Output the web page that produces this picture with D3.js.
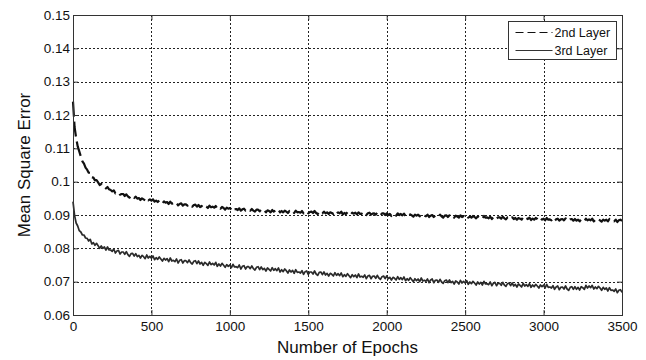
<!DOCTYPE html>
<html>
<head>
<meta charset="utf-8">
<script src="https://cdn.jsdelivr.net/npm/d3@7"></script>
<style>
  body { margin: 0; background: #fff; }
  svg { display: block; font-family: "Liberation Sans", Arial, sans-serif; }
</style>
</head>
<body>
<script>
// epochs sampled every 10
const epochs = d3.range(0, 3501, 10);

// 2nd Layer MSE (dashed)
const layer2 = [
  0.1240,0.1164,0.1131,0.1106,0.1091,0.1075,0.1061,0.1054,0.1042,0.1036,
  0.1027,0.1026,0.1013,0.1012,0.1004,0.1005,0.0998,0.0990,0.0993,0.0987,
  0.0987,0.0980,0.0984,0.0977,0.0975,0.0971,0.0974,0.0965,0.0968,0.0968,
  0.0961,0.0963,0.0963,0.0957,0.0962,0.0956,0.0952,0.0957,0.0957,0.0951,
  0.0955,0.0949,0.0951,0.0945,0.0950,0.0947,0.0944,0.0950,0.0944,0.0947,
  0.0943,0.0947,0.0940,0.0943,0.0939,0.0944,0.0940,0.0935,0.0941,0.0937,
  0.0939,0.0933,0.0940,0.0934,0.0935,0.0932,0.0936,0.0929,0.0933,0.0935,
  0.0928,0.0932,0.0932,0.0928,0.0933,0.0928,0.0925,0.0930,0.0931,0.0925,
  0.0930,0.0924,0.0927,0.0922,0.0927,0.0925,0.0921,0.0928,0.0923,0.0925,
  0.0922,0.0927,0.0919,0.0923,0.0919,0.0924,0.0921,0.0916,0.0922,0.0919,
  0.0921,0.0916,0.0922,0.0917,0.0918,0.0915,0.0920,0.0913,0.0917,0.0919,
  0.0913,0.0916,0.0917,0.0913,0.0918,0.0913,0.0910,0.0916,0.0916,0.0911,
  0.0916,0.0911,0.0913,0.0908,0.0914,0.0912,0.0908,0.0915,0.0910,0.0913,
  0.0910,0.0915,0.0908,0.0912,0.0908,0.0913,0.0910,0.0906,0.0912,0.0909,
  0.0912,0.0906,0.0913,0.0908,0.0909,0.0907,0.0912,0.0905,0.0909,0.0911,
  0.0905,0.0909,0.0910,0.0906,0.0912,0.0906,0.0903,0.0909,0.0910,0.0905,
  0.0910,0.0905,0.0908,0.0903,0.0908,0.0906,0.0903,0.0910,0.0905,0.0908,
  0.0905,0.0910,0.0902,0.0906,0.0903,0.0908,0.0905,0.0901,0.0907,0.0904,
  0.0907,0.0902,0.0908,0.0903,0.0904,0.0902,0.0907,0.0900,0.0905,0.0907,
  0.0901,0.0904,0.0905,0.0901,0.0907,0.0902,0.0899,0.0905,0.0905,0.0900,
  0.0905,0.0900,0.0903,0.0897,0.0903,0.0901,0.0898,0.0905,0.0900,0.0903,
  0.0899,0.0904,0.0897,0.0901,0.0898,0.0902,0.0899,0.0895,0.0901,0.0898,
  0.0901,0.0896,0.0902,0.0897,0.0898,0.0896,0.0901,0.0894,0.0898,0.0900,
  0.0894,0.0898,0.0899,0.0895,0.0901,0.0896,0.0892,0.0898,0.0899,0.0894,
  0.0899,0.0894,0.0897,0.0892,0.0898,0.0895,0.0892,0.0899,0.0894,0.0897,
  0.0894,0.0899,0.0892,0.0895,0.0892,0.0897,0.0894,0.0890,0.0896,0.0893,
  0.0895,0.0890,0.0897,0.0892,0.0893,0.0890,0.0895,0.0888,0.0893,0.0895,
  0.0889,0.0893,0.0893,0.0889,0.0895,0.0890,0.0887,0.0893,0.0893,0.0888,
  0.0893,0.0888,0.0891,0.0886,0.0891,0.0889,0.0886,0.0893,0.0888,0.0891,
  0.0888,0.0892,0.0885,0.0889,0.0886,0.0891,0.0888,0.0883,0.0889,0.0886,
  0.0889,0.0884,0.0891,0.0886,0.0887,0.0884,0.0889,0.0882,0.0887,0.0889,
  0.0883,0.0887,0.0888,0.0884,0.0890,0.0885,0.0882,0.0887,0.0888,0.0883,
  0.0888,0.0883,0.0886,0.0881,0.0887,0.0885,0.0882,0.0889,0.0884,0.0887,
  0.0884,0.0889,0.0881,0.0885,0.0882,0.0887,0.0884,0.0880,0.0886,0.0883,
  0.0886,0.0881,0.0888,0.0883,0.0883,0.0881,0.0886,0.0879,0.0884,0.0886,
  0.0882
];

// 3rd Layer MSE (solid)
const layer3 = [
  0.0940,0.0899,0.0876,0.0867,0.0853,0.0849,0.0840,0.0840,0.0831,0.0830,
  0.0822,0.0827,0.0813,0.0817,0.0809,0.0815,0.0808,0.0800,0.0807,0.0800,
  0.0804,0.0795,0.0804,0.0795,0.0795,0.0791,0.0798,0.0786,0.0792,0.0794,
  0.0783,0.0789,0.0789,0.0782,0.0790,0.0781,0.0776,0.0784,0.0785,0.0777,
  0.0784,0.0775,0.0779,0.0771,0.0779,0.0775,0.0769,0.0780,0.0771,0.0776,
  0.0770,0.0777,0.0766,0.0772,0.0767,0.0774,0.0768,0.0762,0.0770,0.0765,
  0.0769,0.0760,0.0771,0.0762,0.0764,0.0760,0.0768,0.0756,0.0764,0.0766,
  0.0756,0.0763,0.0763,0.0757,0.0765,0.0757,0.0753,0.0761,0.0763,0.0754,
  0.0762,0.0753,0.0758,0.0749,0.0758,0.0754,0.0749,0.0759,0.0751,0.0755,
  0.0750,0.0758,0.0746,0.0753,0.0747,0.0755,0.0749,0.0743,0.0751,0.0746,
  0.0750,0.0742,0.0752,0.0744,0.0745,0.0742,0.0750,0.0738,0.0746,0.0748,
  0.0738,0.0745,0.0745,0.0739,0.0747,0.0739,0.0735,0.0743,0.0745,0.0736,
  0.0744,0.0736,0.0740,0.0732,0.0741,0.0737,0.0732,0.0742,0.0734,0.0739,
  0.0733,0.0741,0.0729,0.0736,0.0730,0.0738,0.0733,0.0726,0.0735,0.0729,
  0.0734,0.0725,0.0736,0.0728,0.0729,0.0726,0.0733,0.0722,0.0730,0.0732,
  0.0722,0.0729,0.0729,0.0723,0.0732,0.0723,0.0719,0.0728,0.0729,0.0721,
  0.0729,0.0720,0.0725,0.0717,0.0725,0.0722,0.0717,0.0727,0.0719,0.0724,
  0.0718,0.0726,0.0715,0.0721,0.0716,0.0724,0.0718,0.0712,0.0721,0.0715,
  0.0720,0.0712,0.0723,0.0714,0.0716,0.0713,0.0720,0.0709,0.0717,0.0719,
  0.0709,0.0716,0.0717,0.0710,0.0719,0.0711,0.0707,0.0715,0.0717,0.0709,
  0.0717,0.0709,0.0713,0.0705,0.0713,0.0710,0.0705,0.0715,0.0707,0.0712,
  0.0706,0.0714,0.0703,0.0709,0.0704,0.0712,0.0706,0.0700,0.0709,0.0703,
  0.0708,0.0700,0.0711,0.0702,0.0704,0.0701,0.0708,0.0697,0.0705,0.0708,
  0.0697,0.0704,0.0705,0.0698,0.0707,0.0699,0.0695,0.0703,0.0705,0.0697,
  0.0705,0.0697,0.0701,0.0693,0.0702,0.0699,0.0693,0.0704,0.0696,0.0701,
  0.0696,0.0703,0.0692,0.0699,0.0694,0.0701,0.0696,0.0690,0.0699,0.0693,
  0.0698,0.0690,0.0701,0.0693,0.0694,0.0691,0.0699,0.0688,0.0695,0.0698,
  0.0688,0.0695,0.0695,0.0689,0.0698,0.0690,0.0686,0.0694,0.0696,0.0688,
  0.0696,0.0687,0.0692,0.0684,0.0693,0.0689,0.0684,0.0695,0.0687,0.0691,
  0.0686,0.0694,0.0683,0.0690,0.0685,0.0692,0.0687,0.0681,0.0690,0.0685,
  0.0690,0.0681,0.0692,0.0683,0.0684,0.0681,0.0688,0.0677,0.0684,0.0687,
  0.0676,0.0683,0.0684,0.0678,0.0687,0.0678,0.0674,0.0683,0.0685,0.0677,
  0.0685,0.0677,0.0683,0.0675,0.0685,0.0682,0.0677,0.0689,0.0681,0.0687,
  0.0682,0.0689,0.0678,0.0684,0.0679,0.0686,0.0681,0.0674,0.0683,0.0677,
  0.0681,0.0672,0.0682,0.0674,0.0675,0.0671,0.0678,0.0667,0.0674,0.0676,
  0.0668
];

const seriesNames = ["2nd Layer", "3rd Layer"];
const xTicks = [0, 500, 1000, 1500, 2000, 2500, 3000, 3500];
const yTicks = [0.06, 0.07, 0.08, 0.09, 0.1, 0.11, 0.12, 0.13, 0.14, 0.15];
const yTickLabels = ["0.06", "0.07", "0.08", "0.09", "0.1", "0.11", "0.12", "0.13", "0.14", "0.15"];

const margin = { top: 15, right: 24, bottom: 45, left: 73 };
const width = 646 - margin.left - margin.right;
const height = 360 - margin.top - margin.bottom;

const svg = d3.select('body').append('svg')
  .attr('width', 646)
  .attr('height', 360);

const g = svg.append('g')
  .attr('transform', `translate(${margin.left}, ${margin.top})`);

const x = d3.scaleLinear().domain([0, 3500]).range([0, width]);
const y = d3.scaleLinear().domain([0.06, 0.15]).range([height, 0]);

// dotted grid
g.append('g')
  .attr('class', 'grid')
  .selectAll('line.gx')
  .data(xTicks.slice(1, -1))
  .join('line')
    .attr('x1', d => Math.round(x(d)) + 0.5)
    .attr('x2', d => Math.round(x(d)) + 0.5)
    .attr('y1', 0)
    .attr('y2', height);

g.select('.grid')
  .selectAll('line.gy')
  .data(yTicks.slice(1, -1))
  .join('line')
    .attr('class', 'gy')
    .attr('x1', 0)
    .attr('x2', width)
    .attr('y1', d => Math.round(y(d)) + 0.5)
    .attr('y2', d => Math.round(y(d)) + 0.5);

g.selectAll('.grid line')
  .attr('stroke', '#222')
  .attr('stroke-width', 1)
  .attr('stroke-dasharray', '2,2');

// the curves
const line = d3.line()
  .x((d, i) => x(epochs[i]))
  .y(d => y(d));

g.append('path')
  .datum(layer3)
  .attr('fill', 'none')
  .attr('stroke', '#2b2b2b')
  .attr('stroke-width', 1.7)
  .attr('stroke-linejoin', 'round')
  .attr('d', line);

g.append('path')
  .datum(layer2)
  .attr('fill', 'none')
  .attr('stroke', '#111')
  .attr('stroke-width', 2.2)
  .attr('stroke-linejoin', 'round')
  .attr('stroke-dasharray', '15,5')
  .attr('d', line);

// axes, ticks pointing inward like matlab
g.append('g')
  .attr('transform', `translate(0, ${height})`)
  .call(d3.axisBottom(x).tickValues(xTicks).tickSizeInner(-5).tickSizeOuter(0).tickPadding(6).tickFormat(d3.format('d')));

g.append('g')
  .call(d3.axisLeft(y).tickValues(yTicks).tickSizeInner(-5).tickSizeOuter(0).tickPadding(3)
    .tickFormat((d, i) => yTickLabels[i]));

g.append('g')
  .call(d3.axisTop(x).tickValues(xTicks).tickSizeInner(-5).tickSizeOuter(0).tickFormat(''));

g.append('g')
  .attr('transform', `translate(${width}, 0)`)
  .call(d3.axisRight(y).tickValues(yTicks).tickSizeInner(-5).tickSizeOuter(0).tickFormat(''));

g.selectAll('.domain').remove();
g.selectAll('.tick line').attr('stroke', '#333');
g.selectAll('.tick text')
  .attr('fill', '#111')
  .style('font-size', '13.5px')
  .style('font-family', '"Liberation Sans", Arial, sans-serif');

g.append('rect')
  .attr('x', 0.5)
  .attr('y', 0.5)
  .attr('width', width)
  .attr('height', height)
  .attr('fill', 'none')
  .attr('stroke', '#333')
  .attr('stroke-width', 1);

// axis titles
svg.append('text')
  .attr('x', margin.left + width / 2)
  .attr('y', 353)
  .attr('text-anchor', 'middle')
  .attr('fill', '#111')
  .style('font-size', '17px')
  .text('Number of Epochs');

svg.append('text')
  .attr('transform', `translate(30, ${margin.top + height / 2}) rotate(-90)`)
  .attr('text-anchor', 'middle')
  .attr('fill', '#111')
  .style('font-size', '17px')
  .text('Mean Square Error');

// legend
const legend = svg.append('g')
  .attr('transform', 'translate(508.5, 21.5)');

legend.append('rect')
  .attr('width', 108)
  .attr('height', 38)
  .attr('fill', '#fff')
  .attr('stroke', '#333');

legend.selectAll('line')
  .data(seriesNames)
  .join('line')
    .attr('x1', 7)
    .attr('x2', 44)
    .attr('y1', (d, i) => 11 + i * 18)
    .attr('y2', (d, i) => 11 + i * 18)
    .attr('stroke', (d, i) => i === 0 ? '#111' : '#333')
    .attr('stroke-width', 1)
    .attr('stroke-dasharray', (d, i) => i === 0 ? '8,4' : null);

legend.selectAll('text')
  .data(seriesNames)
  .join('text')
    .attr('x', 46)
    .attr('y', (d, i) => 15.5 + i * 18)
    .attr('fill', '#111')
    .style('font-size', '12.5px')
    .text(d => d);
</script>
</body>
</html>
